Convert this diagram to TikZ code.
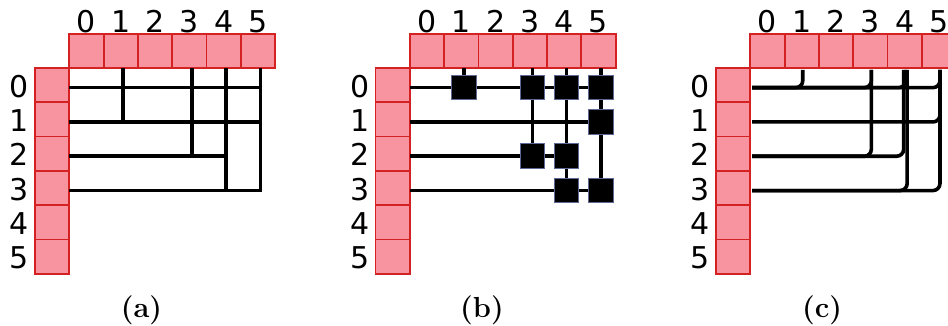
\documentclass[tikz,border=0pt]{standalone}
\usepackage{fontspec}
\newfontfamily\dvs{DejaVu Sans}
\definecolor{cellfill}{RGB}{247,148,160}
\definecolor{celldraw}{RGB}{212,34,34}
\definecolor{sqdraw}{RGB}{95,105,150}
\tikzset{
  cell/.style={draw=celldraw, fill=cellfill, line width=1.8pt, minimum size=34.3pt, inner sep=0pt, outer sep=0pt},
  lab/.style={font=\dvs\fontsize{30}{36}\selectfont, inner sep=0pt, text=black},
  wire/.style={line width=3.6pt, line cap=rect, black},
  cwire/.style={line width=3.6pt, line cap=butt, black, rounded corners=7pt},
  sq/.style={draw=sqdraw, fill=black, line width=1pt, minimum size=24.5pt, inner sep=0pt},
  captext/.style={font=\fontsize{29}{34}\selectfont\bfseries, inner sep=0pt, anchor=base}
}
\begin{document}
\begin{tikzpicture}[x=1pt,y=-1pt]
\clip (0,0) rectangle (948,326);
\useasboundingbox (0,0) rectangle (948,326);
\foreach \p/\ox/\dx in {a/0/2.5,b/340.5/2.5,c/681/1}{
  \foreach \i in {0,...,5}{
    \node[cell] (\p-t\i) at ({69.3+\ox+34.3*(\i+0.5)},50.85) {};
    \node[lab,anchor=base] (\p-tn\i) at ({69.3+\ox+34.3*(\i+0.5)},32.3) {\i};
    \node[cell] (\p-l\i) at ({52.15+\ox},{68+34.3*(\i+0.5)}) {};
    \node[lab,anchor=base] (\p-ln\i) at ({19.5+\ox},{68+34.3*(\i+0.5)+12}) {\i};
    \coordinate (\p-cx\i) at ({69.3+\ox+34.3*(\i+0.5)+\dx},69.8);
    \coordinate (\p-ry\i) at ({69.3+\ox+1.8},{68+34.3*(\i+0.5)+2.5});
  }
}
% panel (a)
\draw[wire] (a-ry0) -- (a-cx5 |- a-ry0);
\draw[wire] (a-ry1) -- (a-cx5 |- a-ry1);
\draw[wire] (a-ry2) -- (a-cx4 |- a-ry2);
\draw[wire, line join=miter] (a-ry3) -| (a-cx5);
\draw[wire] (a-cx1) -- (a-cx1 |- a-ry1);
\draw[wire] (a-cx3) -- (a-cx3 |- a-ry2);
\draw[wire] (a-cx4) -- (a-cx4 |- a-ry3);
% panel (b)
\draw[wire] (b-ry0) -- (b-cx5 |- b-ry0);
\draw[wire] (b-ry1) -- (b-cx5 |- b-ry1);
\draw[wire] (b-ry2) -- (b-cx4 |- b-ry2);
\draw[wire] (b-ry3) -- (b-cx5 |- b-ry3);
\draw[wire] (b-cx1) -- (b-cx1 |- b-ry0);
\draw[wire] (b-cx3) -- (b-cx3 |- b-ry2);
\draw[wire] (b-cx4) -- (b-cx4 |- b-ry3);
\draw[wire] (b-cx5) -- (b-cx5 |- b-ry3);
\foreach \r/\c in {0/1,0/3,0/4,0/5,1/5,2/3,2/4,3/4,3/5}{
  \node[sq] (b-s\r\c) at (b-cx\c |- b-ry\r) {};
}
% panel (c)
\foreach \r/\c/\s in {0/1/0,0/3/0,0/4/0,0/5/0,1/5/0,2/3/0,2/4/-2,3/4/1.5,3/5/0}{
  \draw[cwire] (c-ry\r) -| ([xshift=\s pt]c-cx\c);
}
% captions
\node[captext] (capa) at (141.5,317) {(a)};
\node[captext] (capb) at (482,317) {(b)};
\node[captext] (capc) at (822,317) {(c)};
\end{tikzpicture}
\end{document}
